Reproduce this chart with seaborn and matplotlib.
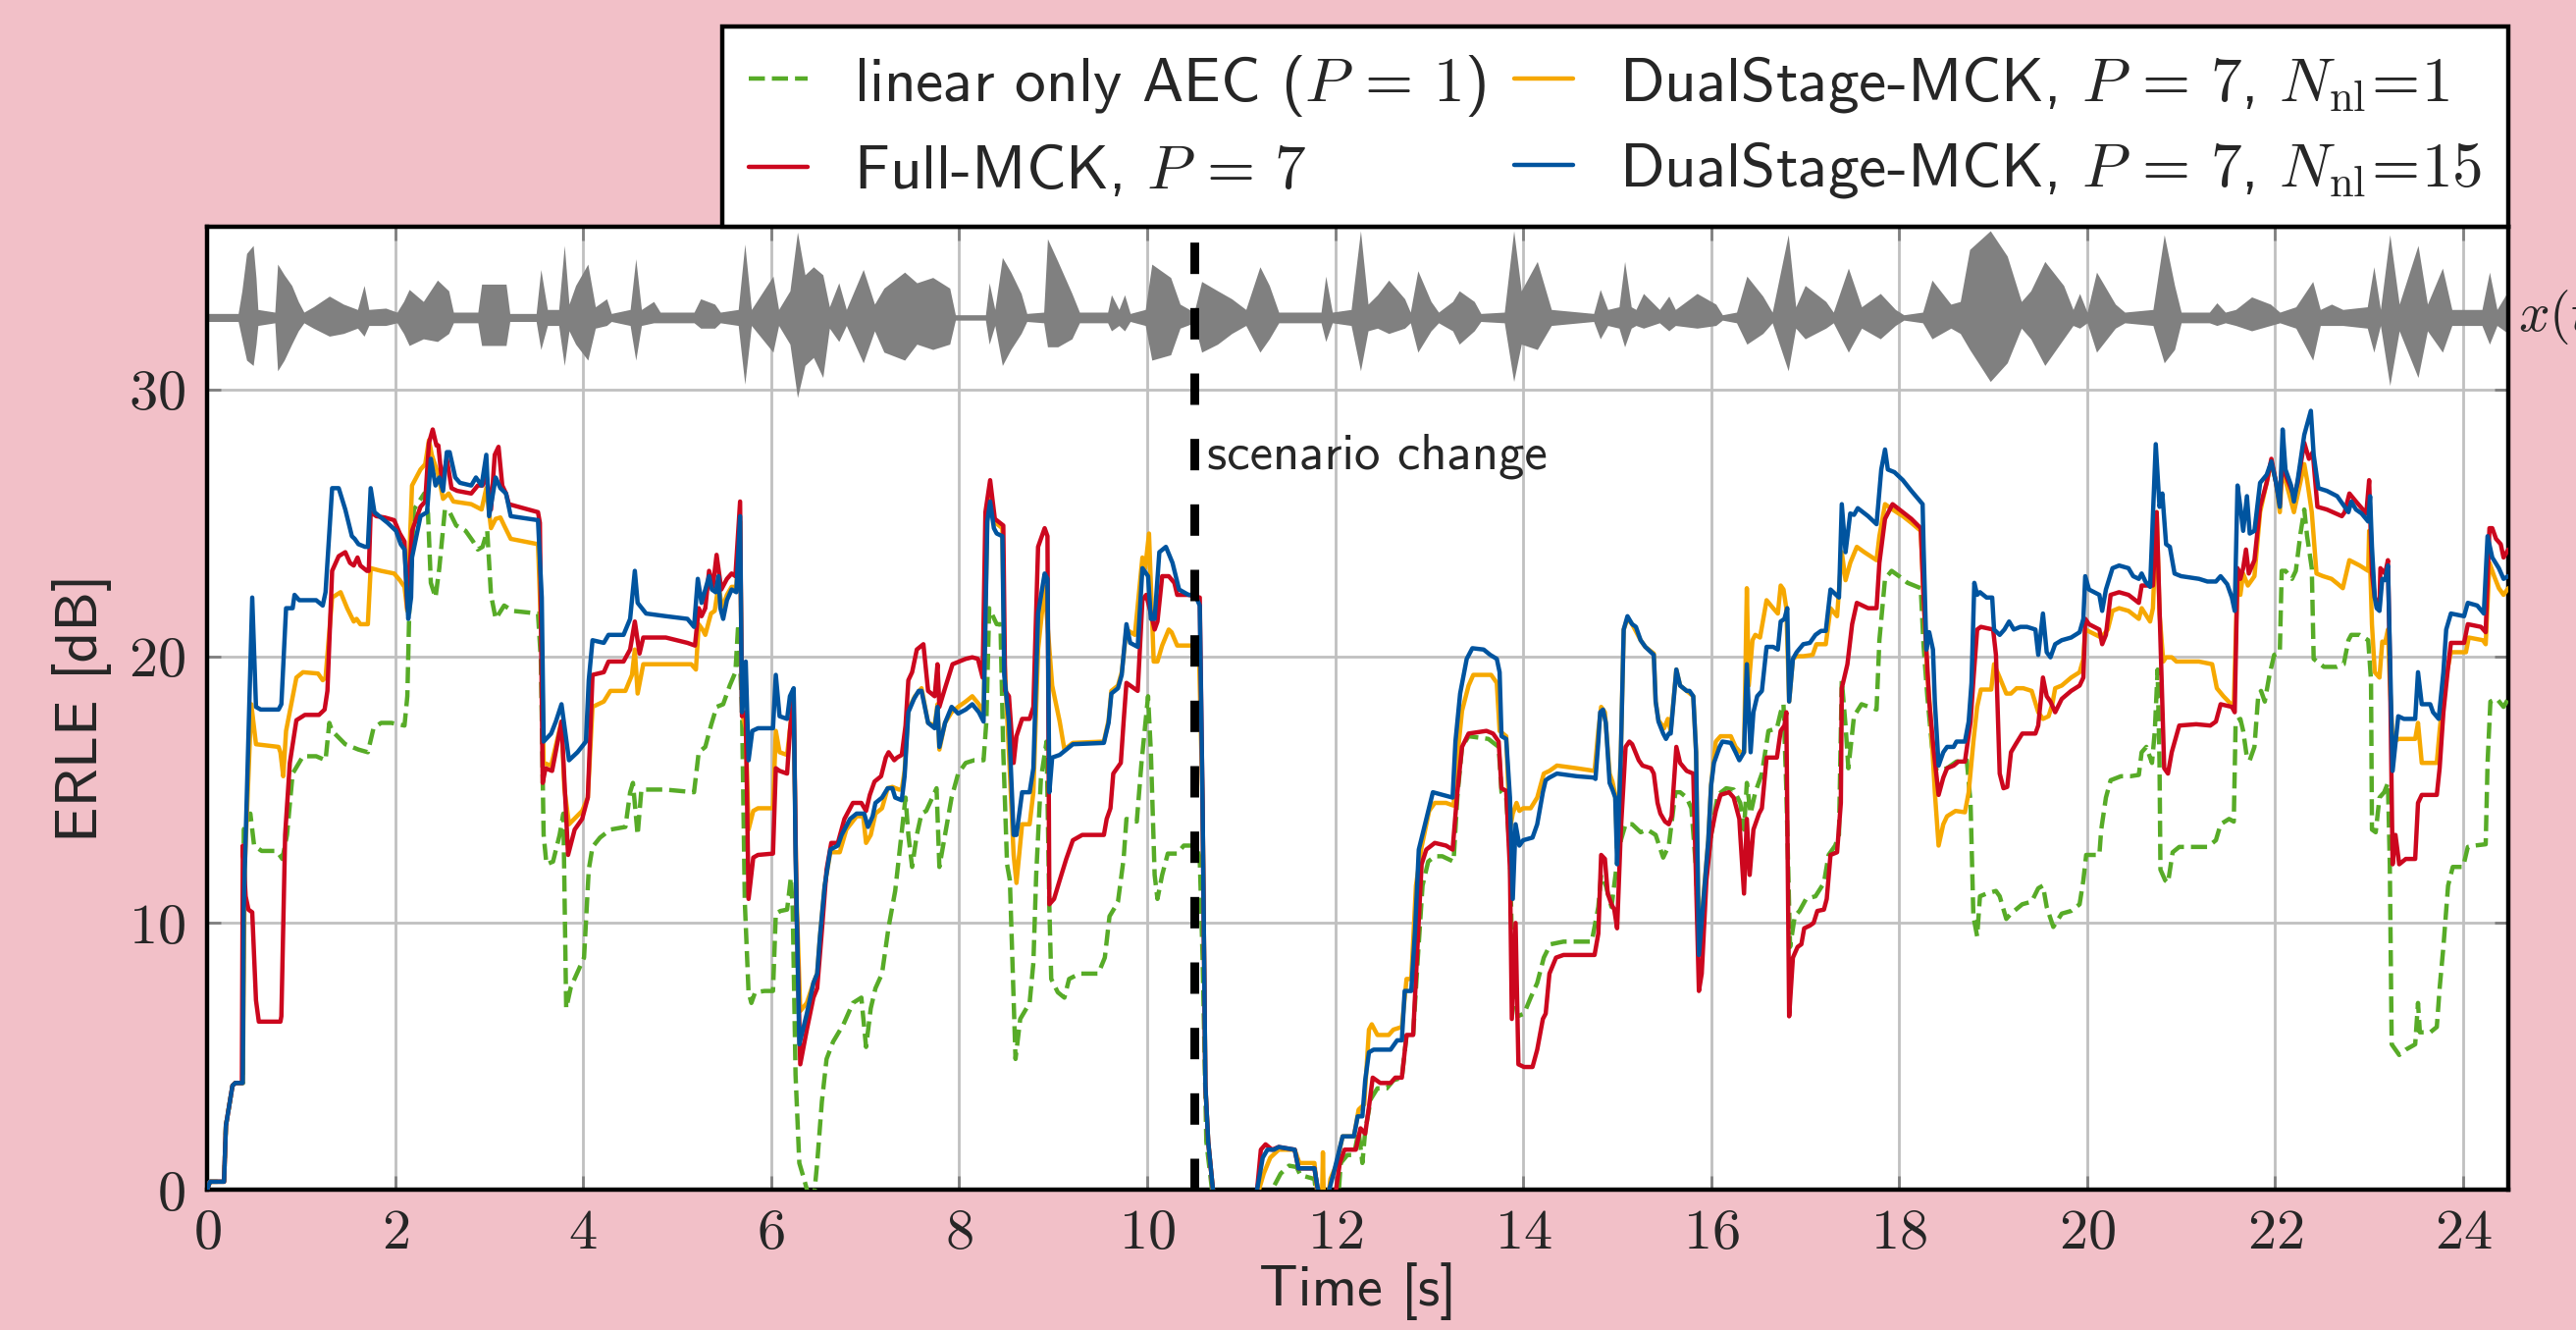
import numpy as np
import pandas as pd
import matplotlib
matplotlib.use("Agg")
import matplotlib.pyplot as plt
import seaborn as sns

# ---------------- data ----------------
LABELS = [r"linear only AEC ($P\,=\,1$)",
          r"Full-MCK, $P\,=\,7$",
          r"DualStage-MCK, $P\,=\,7$, $N_{\mathrm{nl}}\!=\!1$",
          r"DualStage-MCK, $P\,=\,7$, $N_{\mathrm{nl}}\!=\!15$"]

X_TICKS = [0, 2, 4, 6, 8, 10, 12, 14, 16, 18, 20, 22, 24]
Y_TICKS = [0, 10, 20, 30]
SCENARIO_CHANGE_T = 10.5
WAVE_CENTER = 32.7

BLUE = [(0.00,0.0),(0.03,0.3),(0.18,0.3),(0.20,2.4),(0.27,3.9),(0.30,4.0),(0.38,4.0),(0.39,10.6),(0.48,22.2),(0.52,18.1),(0.57,18.0),(0.76,18.0),(0.79,18.2),(0.84,21.8),(0.91,21.8),(0.93,22.3),(0.98,22.1),(1.16,22.1),(1.23,21.9),(1.26,22.4),(1.33,26.3),(1.40,26.3),(1.47,25.5),(1.54,24.5),(1.57,24.4),(1.61,24.2),(1.68,24.1),(1.71,24.1),(1.74,26.3),(1.78,25.4),(1.85,25.2),(1.92,25.0),(2.01,24.7),(2.06,24.2),(2.10,24.0),(2.14,21.4),(2.17,22.2),(2.18,23.7),(2.27,25.25),(2.34,25.4),(2.38,27.4),(2.43,26.4),(2.47,26.7),(2.51,26.2),(2.55,27.65),(2.58,27.65),(2.64,26.7),(2.69,26.5),(2.81,26.4),(2.86,26.7),(2.92,26.4),(2.97,27.55),(3.00,25.25),(3.07,26.7),(3.12,26.3),(3.18,26.1),(3.23,25.25),(3.52,25.1),(3.56,22.2),(3.58,16.8),(3.66,17.1),(3.71,17.55),(3.77,18.2),(3.85,16.1),(3.94,16.4),(4.03,16.8),(4.06,19.1),(4.10,20.6),(4.22,20.5),(4.27,20.8),(4.43,20.8),(4.50,21.4),(4.55,23.2),(4.58,22.0),(4.67,21.6),(4.88,21.5),
        (5.11,21.4),(5.18,21.1),(5.22,22.9),(5.26,22.0),(5.34,23.0),(5.37,22.5),(5.41,22.4),(5.44,23.0),(5.46,21.8),(5.49,21.4),(5.53,22.1),(5.58,22.5),(5.63,22.4),(5.67,25.25),(5.69,17.9),(5.73,19.8),(5.76,16.1),(5.80,17.2),(5.86,17.3),(6.02,17.3),(6.05,19.3),(6.09,17.75),(6.17,17.65),(6.20,18.5),(6.24,18.8),(6.26,12.6),(6.30,5.45),(6.38,6.6),(6.45,7.75),(6.49,8.1),(6.52,9.5),(6.57,11.4),(6.63,12.75),(6.71,12.9),(6.75,13.3),(6.84,13.9),(6.91,14.1),(6.99,14.1),(7.03,13.6),(7.08,14.0),(7.11,14.5),(7.18,14.7),(7.24,15.05),(7.29,15.05),(7.32,14.7),(7.39,14.6),(7.42,15.5),(7.46,17.9),(7.52,18.4),(7.57,18.7),(7.60,18.7),(7.67,17.5),(7.74,17.3),(7.77,18.1),(7.79,16.6),(7.85,17.5),(7.92,18.1),(7.99,17.85),(8.07,18.0),(8.14,18.2),(8.21,17.9),(8.26,17.55),(8.30,25.05),(8.33,25.8),(8.37,24.8),(8.40,24.6),(8.46,24.5),(8.48,19.3),(8.53,17.55),(8.58,13.3),(8.61,13.3),(8.67,14.9),(8.75,14.9),(8.79,15.8),(8.84,21.6),(8.91,23.1),(8.94,22.9),(8.96,14.9),(8.99,16.2),(9.07,16.3),(9.14,16.5),(9.21,16.7),(9.54,16.75),(9.59,17.5),(9.62,18.6),(9.69,18.8),
        (9.73,19.3),(9.78,21.2),(9.82,20.5),(9.90,20.35),(9.95,23.3),(10.01,23.0),(10.04,21.4),(10.08,21.4),(10.13,23.9),(10.20,24.1),(10.27,23.5),(10.34,22.5),(10.44,22.3),(10.51,22.3),(10.56,21.9),(10.59,14.5),(10.62,3.9),(10.65,1.8),(10.70,0.0),(10.75,-3.0),(11.12,-3.0),(11.17,0.0),(11.23,1.2),(11.28,1.5),(11.35,1.5),(11.40,1.6),(11.57,1.5),(11.61,0.8),(11.78,0.8),(11.84,-0.5),(11.90,-0.5),(11.99,0.7),(12.08,2.0),(12.20,2.0),(12.24,2.75),(12.29,2.75),(12.32,4.1),(12.36,5.15),(12.41,5.25),(12.59,5.25),(12.66,5.6),(12.71,5.6),(12.74,7.45),(12.81,7.45),(12.85,9.7),(12.89,12.75),(12.97,13.9),(13.04,14.9),(13.25,14.7),(13.28,16.8),(13.33,18.6),(13.40,19.9),(13.46,20.3),(13.58,20.25),(13.65,20.05),(13.72,19.9),(13.75,19.4),(13.77,17.0),(13.82,16.9),(13.86,14.7),(13.89,10.9),(13.92,13.7),(13.96,12.9),(14.00,13.1),(14.10,13.2),(14.15,13.7),(14.21,14.9),(14.24,15.35),(14.28,15.45),(14.36,15.6),(14.57,15.5),(14.75,15.45),
        (14.77,15.4),(14.80,16.8),(14.82,17.9),(14.85,18.0),(14.88,17.5),(14.92,15.25),(14.95,15.0),(14.98,14.7),(15.00,12.2),(15.04,16.4),(15.07,21.0),(15.11,21.5),(15.16,21.2),(15.20,21.1),(15.25,20.6),(15.30,20.35),(15.36,20.15),(15.39,20.05),(15.41,18.3),(15.44,17.55),(15.49,17.1),(15.52,16.9),(15.55,17.1),(15.57,17.1),(15.63,19.5),(15.67,18.9),(15.74,18.7),(15.77,18.7),(15.81,18.5),(15.84,16.4),(15.87,8.8),(15.91,10.5),(15.97,13.1),(16.00,15.15),(16.03,16.0),(16.09,16.6),(16.12,16.8),(16.21,16.75),(16.26,16.4),(16.30,16.1),(16.35,16.4),(16.38,19.7),(16.42,16.4),(16.45,17.9),(16.49,18.5),(16.54,18.7),(16.59,20.35),(16.66,20.35),(16.71,20.25),(16.74,21.3),(16.78,21.4),(16.81,21.8),(16.83,18.3),(16.87,19.9),(16.91,20.15),(16.98,20.45),(17.05,20.5),(17.11,20.8),(17.17,20.95),(17.22,20.95),(17.27,22.5),(17.36,22.2),(17.39,25.7),(17.43,23.9),(17.48,25.35),(17.52,25.3),(17.56,25.55),(17.67,25.25),(17.76,24.95),(17.81,27.0),(17.85,27.75),(17.88,27.0),(17.95,26.9),(18.04,26.6),(18.13,26.2),(18.25,25.7),(18.26,24.1),(18.29,20.25),(18.32,20.9),(18.36,20.25),(18.38,18.3),(18.42,15.9),(18.47,16.4),(18.51,16.6),(18.58,16.6),(18.61,16.8),(18.70,16.8),(18.74,17.55),(18.77,19.0),(18.80,22.75),(18.83,22.3),(18.86,22.4),(18.93,22.2),(18.99,22.2),(19.01,21.0),(19.07,20.8),(19.12,21.0),(19.17,21.3),(19.22,21.0),(19.29,21.1),(19.36,21.1),(19.45,21.0),(19.48,20.05),(19.53,21.6),(19.57,20.15),(19.61,19.96),(19.66,20.45),(19.73,20.6),(19.83,20.7),(19.92,20.9),(19.96,21.4),(19.98,23.0),(20.02,22.5),(20.13,22.3),(20.16,21.7),(20.20,22.5),(20.27,23.3),(20.34,23.4),(20.44,23.3),(20.49,23.0),(20.55,22.9),(20.58,23.1),(20.62,22.8),(20.67,22.6),(20.73,27.95),(20.77,25.6),(20.80,26.1),(20.84,24.2),(20.88,24.1),(20.93,23.1),(21.00,23.0),(21.19,22.9),(21.28,22.8),(21.37,22.8),(21.42,23.0),(21.49,22.7),(21.54,22.2),(21.57,21.7),(21.60,26.4),(21.63,25.6),(21.66,24.7),(21.70,26.0),(21.73,24.6),(21.78,24.7),(21.84,26.5),(21.91,26.8),(21.96,27.3),(22.01,26.5),(22.05,25.6),(22.08,28.5),(22.11,27.0),(22.17,26.4),(22.20,25.8),(22.24,26.6),(22.31,28.3),(22.38,29.2),(22.41,27.55),(22.46,26.3),(22.55,26.2),(22.66,26.0),(22.72,25.7),(22.78,25.4),(22.81,25.8),(22.86,25.5),(22.92,25.35),(22.99,25.05),(23.01,26.0),(23.03,24.1),(23.06,22.2),(23.08,21.8),(23.11,21.7),(23.14,22.9),(23.17,22.85),(23.20,23.4),(23.22,20.25),(23.25,15.7),(23.31,17.75),(23.37,17.65),(23.49,17.65),(23.52,19.4),(23.56,18.2),(23.65,18.2),(23.68,17.9),(23.74,17.65),(23.79,19.4),(23.82,21.0),(23.87,21.6),(24.01,21.5),(24.05,22.0),(24.15,21.9),(24.22,21.6),(24.26,24.5),(24.31,23.7),(24.38,23.3),(24.43,22.9),(24.48,23.0)]

RED = [(0.00,0.0),(0.03,0.3),(0.18,0.3),(0.20,2.4),(0.27,3.9),(0.30,4.0),(0.37,4.0),(0.38,12.9),(0.41,11.0),(0.44,10.5),(0.48,10.4),(0.52,7.1),(0.55,6.3),(0.78,6.3),(0.79,6.5),(0.83,13.3),(0.88,16.0),(0.95,17.6),(1.04,17.8),(1.19,17.8),(1.25,18.0),(1.28,18.7),(1.33,23.2),(1.40,23.75),(1.47,23.9),(1.52,23.5),(1.56,23.4),(1.60,23.7),(1.63,23.4),(1.70,23.2),(1.72,23.2),(1.74,25.4),(1.80,25.25),(1.89,25.2),(1.99,25.1),(2.05,24.6),(2.10,24.3),(2.13,21.8),(2.18,24.7),(2.27,25.6),(2.32,25.8),(2.36,28.0),(2.40,28.5),(2.44,27.9),(2.46,27.9),(2.50,26.5),(2.55,27.4),(2.60,26.3),(2.66,26.2),(2.81,26.1),(2.88,26.4),(2.93,26.4),(2.97,26.8),(3.02,25.5),(3.06,27.55),(3.10,27.85),(3.14,26.4),(3.18,26.1),(3.21,25.7),(3.52,25.4),(3.54,25.0),(3.57,15.25),(3.60,15.8),(3.67,15.7),(3.77,17.55),(3.84,12.55),(3.91,13.5),(3.99,13.9),(4.05,14.7),(4.10,19.3),(4.22,19.4),(4.27,19.8),(4.43,19.8),(4.50,20.25),(4.55,21.3),(4.60,20.1),(4.64,20.7),(4.88,20.7),
       (5.11,20.5),(5.19,20.4),(5.23,21.8),(5.26,21.5),(5.30,21.8),(5.34,23.2),(5.38,22.6),(5.42,23.8),(5.47,22.5),(5.53,22.9),(5.58,23.1),(5.62,23.0),(5.67,25.8),(5.69,17.75),(5.73,17.9),(5.76,10.9),(5.81,12.45),(5.86,12.55),(6.02,12.6),(6.05,15.8),(6.09,15.7),(6.17,15.6),(6.20,17.2),(6.24,18.6),(6.27,10.6),(6.31,4.7),(6.38,6.0),(6.45,7.2),(6.49,7.55),(6.54,9.7),(6.59,12.0),(6.64,13.0),(6.71,13.0),(6.78,13.9),(6.87,14.5),(6.96,14.5),(7.01,14.2),(7.05,14.8),(7.10,15.3),(7.17,15.5),(7.22,16.2),(7.25,16.4),(7.31,16.1),(7.34,16.2),(7.39,16.3),(7.43,17.4),(7.46,19.1),(7.50,19.4),(7.55,20.25),(7.62,20.45),(7.67,18.7),(7.74,18.5),(7.77,19.7),(7.79,18.1),(7.85,18.8),(7.93,19.7),(8.00,19.8),(8.07,19.9),(8.14,19.96),(8.20,19.9),(8.25,19.2),(8.28,25.4),(8.33,26.6),(8.38,25.15),(8.47,24.9),(8.49,18.7),(8.53,18.5),(8.58,16.0),(8.61,17.0),(8.67,17.65),(8.75,17.65),(8.79,18.1),(8.84,24.1),(8.91,24.8),(8.94,24.5),(8.96,10.7),(9.01,10.9),(9.07,11.6),(9.14,12.4),(9.21,13.1),(9.31,13.3),(9.54,13.3),(9.57,13.9),(9.61,14.3),(9.64,15.6),(9.72,16.0),(9.75,17.55),
       (9.78,19.0),(9.90,18.7),(9.95,22.1),(9.99,22.3),(10.04,21.6),(10.08,21.0),(10.11,21.3),(10.16,23.0),(10.23,23.0),(10.29,22.75),(10.32,22.3),(10.44,22.3),(10.56,22.2),(10.59,14.5),(10.62,3.9),(10.65,1.8),(10.70,0.0),(10.75,-3.0),(11.12,-3.0),(11.17,0.0),(11.21,1.5),(11.26,1.7),(11.33,1.5),(11.40,1.6),(11.57,1.5),(11.61,0.8),(11.78,0.8),(11.84,-0.5),(11.99,-0.5),(12.05,1.0),(12.10,1.5),(12.22,1.5),(12.27,2.3),(12.32,2.1),(12.36,3.1),(12.40,4.2),(12.48,4.0),(12.59,4.0),(12.64,4.2),(12.71,4.2),(12.76,5.8),(12.83,5.8),(12.87,8.7),(12.92,12.2),(12.97,12.75),(13.06,13.0),(13.18,12.9),(13.25,12.75),(13.30,14.9),(13.35,16.6),(13.42,17.1),(13.61,17.2),(13.68,17.1),(13.74,16.8),(13.77,15.05),(13.82,14.95),(13.86,12.0),(13.88,6.4),(13.92,10.0),(13.95,4.7),(14.01,4.6),(14.10,4.6),(14.15,5.25),(14.21,6.4),(14.24,6.6),(14.28,8.1),(14.35,8.7),(14.43,8.8),(14.76,8.8),
       (14.80,9.6),(14.83,12.55),(14.87,12.4),(14.90,11.1),(14.94,10.7),(14.97,10.5),(15.00,9.8),(15.04,13.5),(15.09,16.6),(15.13,16.8),(15.16,16.7),(15.23,16.1),(15.27,15.9),(15.36,15.8),(15.39,15.6),(15.43,14.5),(15.46,14.1),(15.51,13.8),(15.55,13.7),(15.58,14.0),(15.63,16.6),(15.67,16.0),(15.74,15.7),(15.81,15.6),(15.87,7.45),(15.90,8.1),(15.95,11.6),(16.00,13.3),(16.05,14.2),(16.10,14.8),(16.19,14.9),(16.24,14.7),(16.30,13.9),(16.31,13.3),(16.35,11.1),(16.38,13.9),(16.41,11.8),(16.45,13.5),(16.51,14.1),(16.54,14.3),(16.59,16.2),(16.70,16.2),(16.74,17.2),(16.78,17.4),(16.80,17.9),(16.83,6.5),(16.87,8.7),(16.92,9.1),(16.96,9.2),(16.99,9.8),(17.05,9.9),(17.09,10.0),(17.13,10.45),(17.20,10.5),(17.23,10.9),(17.27,12.55),(17.34,12.65),(17.38,14.5),(17.39,18.8),(17.45,19.7),(17.50,21.2),(17.55,22.0),(17.67,21.8),(17.76,21.8),(17.79,23.5),(17.85,25.15),(17.93,25.7),(18.04,25.4),(18.13,25.15),(18.23,24.8),(18.26,22.2),(18.32,18.3),(18.37,16.4),(18.42,14.8),(18.47,15.45),(18.51,15.8),(18.58,15.9),(18.63,16.05),(18.70,16.05),(18.76,17.55),(18.79,19.1),(18.83,21.0),(18.87,21.1),(19.00,21.0),(19.03,20.05),(19.07,15.6),(19.11,15.05),(19.15,15.1),(19.19,16.4),(19.24,16.7),(19.31,17.1),(19.38,17.1),(19.45,17.1),(19.48,17.4),(19.53,19.2),(19.57,18.5),(19.61,18.3),(19.66,17.9),(19.73,18.4),(19.83,18.7),(19.92,18.9),(19.96,19.2),(19.98,21.4),(20.02,21.2),(20.13,21.0),(20.16,20.45),(20.20,20.8),(20.25,22.3),(20.34,22.4),(20.44,22.3),(20.55,22.0),(20.58,22.65),(20.70,22.65),(20.74,25.4),(20.77,21.8),(20.80,18.3),(20.82,15.8),(20.86,15.6),(20.90,16.4),(20.98,17.4),(21.16,17.45),(21.31,17.4),(21.37,17.55),(21.42,18.2),(21.54,18.1),(21.57,17.9),(21.60,23.3),(21.63,22.9),(21.66,23.3),(21.69,24.0),(21.72,23.1),(21.78,23.6),(21.84,25.6),(21.91,26.5),(21.96,27.4),(22.01,26.5),(22.05,25.7),(22.08,27.55),(22.11,26.8),(22.20,26.0),(22.24,26.5),(22.31,28.0),(22.36,27.4),(22.40,27.65),(22.45,25.6),(22.55,25.5),(22.71,25.25),(22.74,25.4),(22.79,26.1),(22.86,25.8),(22.97,25.35),(23.00,26.6),(23.03,23.1),(23.06,22.2),(23.11,21.8),(23.12,23.3),(23.17,23.1),(23.20,23.6),(23.22,20.0),(23.25,12.2),(23.28,13.3),(23.32,12.2),(23.39,12.4),(23.49,12.4),(23.52,14.5),(23.56,14.8),(23.72,14.8),(23.75,15.8),(23.79,17.9),(23.84,19.6),(23.87,20.5),(24.01,20.5),(24.05,21.2),(24.19,21.1),(24.24,20.9),(24.28,24.8),(24.31,24.8),(24.35,24.4),(24.40,24.2),(24.43,23.7),(24.48,24.0)]

ORANGE = [(0.00,0.0),(0.03,0.3),(0.18,0.3),(0.20,2.4),(0.27,3.9),(0.30,4.0),(0.38,4.0),(0.40,12.0),(0.47,18.2),(0.52,16.7),(0.76,16.6),(0.78,16.4),(0.81,15.5),(0.84,17.2),(0.90,18.3),(0.95,19.2),(1.02,19.4),(1.18,19.35),(1.23,19.1),(1.26,19.2),(1.33,22.2),(1.42,22.4),(1.49,21.8),(1.56,21.3),(1.59,21.4),(1.63,21.2),(1.71,21.2),(1.74,23.3),(1.85,23.2),(1.99,23.1),(2.05,22.85),(2.10,22.6),(2.13,21.7),(2.18,26.4),(2.27,27.0),(2.32,27.2),(2.36,28.1),(2.39,27.55),(2.46,26.8),(2.51,25.9),(2.57,26.1),(2.62,25.8),(2.81,25.7),(2.92,25.5),(2.97,26.3),(3.02,24.8),(3.07,25.15),(3.12,25.2),(3.16,24.9),(3.23,24.4),(3.52,24.2),(3.56,20.3),(3.58,16.0),(3.66,15.9),(3.77,17.55),(3.80,15.05),(3.85,13.7),(3.99,14.2),(4.05,14.7),(4.10,18.1),(4.22,18.3),(4.29,18.7),(4.45,18.7),(4.52,19.3),(4.55,20.25),(4.58,18.6),(4.64,19.7),(4.88,19.7),
          (5.15,19.7),(5.20,19.5),(5.23,21.2),(5.27,21.0),(5.30,20.8),(5.36,21.6),(5.40,21.7),(5.44,22.65),(5.48,21.8),(5.53,22.3),(5.58,22.6),(5.63,22.6),(5.67,25.05),(5.69,17.9),(5.73,17.3),(5.76,13.5),(5.81,14.2),(5.86,14.3),(6.02,14.3),(6.05,17.2),(6.09,16.4),(6.17,16.3),(6.21,17.55),(6.24,17.9),(6.27,11.0),(6.31,6.7),(6.38,7.0),(6.45,7.75),(6.49,8.1),(6.52,9.5),(6.57,11.4),(6.63,12.65),(6.73,12.65),(6.80,13.5),(6.91,14.0),(6.98,14.0),(7.01,13.0),(7.06,13.3),(7.11,14.1),(7.18,14.3),(7.24,15.05),(7.29,15.1),(7.36,15.0),(7.39,15.0),(7.42,15.7),(7.46,18.0),(7.53,18.5),(7.60,18.8),(7.67,17.5),(7.74,17.4),(7.77,18.2),(7.79,16.5),(7.85,17.5),(7.92,17.9),(7.99,18.1),(8.07,18.3),(8.14,18.5),(8.21,18.2),(8.26,17.85),(8.30,25.25),(8.33,26.0),(8.37,25.05),(8.46,24.8),(8.48,20.0),(8.53,16.4),(8.58,12.55),(8.61,11.5),(8.67,13.7),(8.75,13.7),(8.79,14.9),(8.84,20.25),(8.91,22.6),(8.94,21.2),(8.99,18.9),(9.07,17.55),(9.12,16.5),(9.21,16.75),(9.54,16.8),(9.59,17.6),(9.62,18.7),(9.69,18.9),
          (9.73,19.4),(9.78,21.0),(9.87,20.8),(9.95,23.7),(9.98,23.3),(10.02,24.6),(10.07,19.8),(10.11,19.8),(10.16,20.4),(10.23,21.0),(10.26,20.9),(10.32,20.4),(10.44,20.4),(10.55,20.4),(10.59,14.5),(10.62,3.9),(10.65,1.8),(10.70,0.0),(10.75,-3.0),(11.15,-3.0),(11.19,0.0),(11.24,0.6),(11.31,1.2),(11.40,1.5),(11.57,1.5),(11.62,1.0),(11.78,1.0),(11.82,-0.5),(11.86,-0.5),(11.87,1.4),(11.88,-0.5),(11.92,-0.5),(11.95,0.4),(12.01,0.9),(12.08,2.0),(12.20,2.0),(12.25,3.0),(12.31,3.2),(12.36,6.0),(12.39,6.2),(12.45,5.8),(12.57,5.8),(12.62,6.0),(12.71,6.1),(12.76,7.9),(12.81,7.9),(12.86,11.4),(12.92,12.85),(13.00,14.2),(13.06,14.5),(13.18,14.5),(13.26,14.4),(13.30,16.2),(13.35,17.95),(13.42,18.9),(13.47,19.3),(13.66,19.3),(13.72,19.0),(13.75,17.2),(13.82,17.0),(13.86,13.5),(13.89,14.1),(13.93,14.5),(13.96,14.2),(14.00,14.3),(14.08,14.3),(14.15,14.7),(14.22,15.6),(14.28,15.7),(14.36,15.9),(14.57,15.8),(14.76,15.7),
          (14.80,17.2),(14.83,18.1),(14.87,17.9),(14.92,15.6),(14.95,15.3),(14.98,14.8),(15.00,12.8),(15.04,16.4),(15.07,21.0),(15.11,21.4),(15.16,21.2),(15.25,20.6),(15.30,20.35),(15.39,20.1),(15.41,18.3),(15.44,17.6),(15.50,17.3),(15.54,17.65),(15.57,17.2),(15.63,19.5),(15.67,18.9),(15.81,18.5),(15.84,16.4),(15.87,8.8),(15.91,10.6),(15.97,13.1),(16.00,15.2),(16.05,16.8),(16.10,17.0),(16.21,17.0),(16.26,16.6),(16.31,16.4),(16.35,16.4),(16.38,22.55),(16.40,18.9),(16.44,20.6),(16.47,20.8),(16.52,20.7),(16.59,22.1),(16.66,21.8),(16.71,21.6),(16.74,22.65),(16.77,22.5),(16.80,21.8),(16.83,18.3),(16.87,19.9),(16.91,20.0),(16.98,20.0),(17.08,20.05),(17.12,20.45),(17.22,20.45),(17.27,21.8),(17.34,21.5),(17.39,23.9),(17.43,22.85),(17.48,23.5),(17.55,24.1),(17.63,23.9),(17.76,23.6),(17.79,24.5),(17.85,25.7),(17.93,25.5),(18.04,25.25),(18.13,25.0),(18.23,24.7),(18.27,21.5),(18.30,19.3),(18.33,18.0),(18.38,14.9),(18.42,12.9),(18.47,13.7),(18.51,14.0),(18.60,14.2),(18.70,14.15),(18.74,14.9),(18.79,16.8),(18.83,18.1),(18.87,18.75),(18.98,18.75),(19.01,19.7),(19.07,19.2),(19.14,18.6),(19.19,18.6),(19.25,18.8),(19.32,18.8),(19.41,18.7),(19.48,17.9),(19.53,17.65),(19.59,17.75),(19.63,18.2),(19.66,18.8),(19.73,18.9),(19.83,19.2),(19.92,19.4),(19.96,19.9),(19.98,21.0),(20.15,20.7),(20.22,21.0),(20.27,21.7),(20.34,21.8),(20.44,21.7),(20.55,21.4),(20.58,21.8),(20.67,21.3),(20.70,21.8),(20.74,25.4),(20.77,21.6),(20.81,19.8),(20.84,19.96),(20.90,19.96),(20.95,19.8),(21.19,19.8),(21.33,19.7),(21.38,18.8),(21.45,18.5),(21.56,18.1),(21.60,23.0),(21.63,22.3),(21.66,23.1),(21.71,22.65),(21.78,23.0),(21.84,25.4),(21.91,26.5),(21.96,27.3),(22.01,26.5),(22.05,25.4),(22.08,27.2),(22.11,26.6),(22.20,25.4),(22.31,27.2),(22.34,26.6),(22.39,25.4),(22.44,23.1),(22.51,23.0),(22.60,22.9),(22.67,22.7),(22.72,22.55),(22.79,23.6),(22.90,23.4),(22.99,23.2),(23.00,24.7),(23.03,21.2),(23.06,19.4),(23.11,19.2),(23.14,20.55),(23.17,20.5),(23.20,21.0),(23.22,19.0),(23.25,16.8),(23.32,16.9),(23.49,16.9),(23.52,17.5),(23.56,16.0),(23.72,16.0),(23.75,17.2),(23.80,18.9),(23.87,20.15),(24.03,20.15),(24.06,20.7),(24.21,20.6),(24.24,20.45),(24.28,23.5),(24.33,23.0),(24.38,22.55),(24.43,22.3),(24.48,22.55)]

GREEN = [(0.00,0.0),(0.03,0.3),(0.18,0.3),(0.20,2.4),(0.27,3.9),(0.30,4.0),(0.38,4.0),(0.39,13.5),(0.46,14.1),(0.50,12.9),(0.58,12.7),(0.74,12.7),(0.80,12.4),(0.85,13.3),(0.91,15.6),(1.02,16.25),(1.16,16.25),(1.26,16.1),(1.30,17.5),(1.33,17.2),(1.47,16.7),(1.61,16.5),(1.71,16.4),(1.77,17.3),(1.85,17.5),(1.96,17.5),(2.10,17.4),(2.13,18.5),(2.15,21.6),(2.20,25.5),(2.31,26.1),(2.35,25.35),(2.38,22.75),(2.43,22.2),(2.47,23.3),(2.53,25.5),(2.58,25.4),(2.65,24.9),(2.75,24.7),(2.83,24.3),(2.88,24.0),(2.93,24.1),(2.98,24.7),(3.02,22.3),(3.07,21.4),(3.16,21.9),(3.25,21.7),(3.52,21.6),(3.55,19.9),(3.58,13.3),(3.61,12.2),(3.68,12.3),(3.75,13.3),(3.79,14.1),(3.82,6.8),(3.87,7.6),(4.01,8.7),(4.06,12.0),(4.10,12.85),(4.18,13.2),(4.29,13.5),(4.45,13.6),(4.50,14.9),(4.53,15.25),(4.58,13.3),(4.62,15.0),(4.87,15.0),
         (5.18,14.9),(5.23,16.4),(5.30,16.6),(5.36,17.4),(5.42,18.1),(5.49,18.2),(5.56,18.9),(5.62,19.4),(5.65,21.2),(5.69,18.1),(5.72,10.8),(5.76,7.4),(5.79,7.0),(5.83,7.4),(5.93,7.45),(6.02,7.45),(6.05,10.35),(6.10,10.45),(6.17,10.5),(6.21,11.7),(6.23,10.5),(6.26,4.3),(6.30,1.0),(6.35,0.4),(6.42,-0.5),(6.45,-0.5),(6.49,1.0),(6.54,3.3),(6.59,4.9),(6.66,5.55),(6.77,6.2),(6.87,7.0),(6.96,7.2),(7.01,5.35),(7.06,6.8),(7.11,7.55),(7.18,8.1),(7.25,9.85),(7.32,11.2),(7.38,13.1),(7.43,14.7),(7.46,13.3),(7.50,12.1),(7.55,13.3),(7.60,14.1),(7.65,14.2),(7.76,15.05),(7.79,12.1),(7.85,13.3),(7.92,14.7),(7.99,15.6),(8.07,16.0),(8.16,16.1),(8.26,16.1),(8.29,17.55),(8.32,21.8),(8.40,21.2),(8.44,21.2),(8.47,16.4),(8.51,12.2),(8.54,11.6),(8.60,4.9),(8.65,6.4),(8.75,7.0),(8.79,8.5),(8.82,11.8),(8.87,15.4),(8.93,16.8),(8.96,10.6),(8.98,7.9),(9.05,7.4),(9.12,7.2),(9.17,7.9),(9.28,8.1),(9.48,8.1),(9.55,8.7),(9.60,10.25),(9.66,10.6),(9.69,10.8),
         (9.75,12.4),(9.78,13.9),(9.89,13.8),(9.94,16.0),(10.01,18.5),(10.04,16.4),(10.08,11.8),(10.11,10.9),(10.16,11.8),(10.22,12.6),(10.32,12.6),(10.39,12.9),(10.53,12.9),(10.56,12.4),(10.59,8.7),(10.63,1.8),(10.69,0.0),(10.74,-3.0),(11.28,-3.0),(11.33,0.0),(11.42,0.6),(11.51,0.9),(11.59,0.85),(11.63,0.55),(11.78,0.4),(11.81,-0.5),(12.03,-0.5),(12.06,1.0),(12.13,1.3),(12.20,1.3),(12.25,2.2),(12.29,1.0),(12.32,2.2),(12.38,3.4),(12.45,3.8),(12.55,3.8),(12.62,4.1),(12.71,4.2),(12.76,5.8),(12.83,5.8),(12.88,8.7),(12.93,11.4),(12.99,12.3),(13.06,12.5),(13.14,12.5),(13.26,12.3),(13.30,14.7),(13.35,16.6),(13.42,17.0),(13.63,16.9),(13.74,16.6),(13.77,14.9),(13.82,14.7),(13.86,12.55),(13.89,7.75),(13.94,6.5),(14.01,6.6),(14.08,7.2),(14.15,7.75),(14.22,8.7),(14.29,9.2),(14.43,9.3),(14.73,9.3),
         (14.80,10.6),(14.83,11.8),(14.88,11.4),(14.94,10.6),(14.99,12.0),(15.04,13.1),(15.09,13.7),(15.16,13.7),(15.25,13.4),(15.32,13.5),(15.41,13.3),(15.49,12.45),(15.55,12.9),(15.62,14.9),(15.67,14.9),(15.74,14.7),(15.79,14.3),(15.84,12.0),(15.87,8.7),(15.93,11.2),(16.00,13.3),(16.07,14.8),(16.16,15.05),(16.24,15.0),(16.31,14.5),(16.35,13.5),(16.38,15.25),(16.42,14.1),(16.47,14.9),(16.54,15.6),(16.61,17.2),(16.70,17.3),(16.74,17.9),(16.77,18.2),(16.80,15.0),(16.84,9.1),(16.89,10.25),(16.94,10.45),(17.01,10.9),(17.11,11.0),(17.20,11.5),(17.25,12.55),(17.32,12.9),(17.36,13.3),(17.39,19.1),(17.43,17.4),(17.46,15.8),(17.52,17.75),(17.60,18.2),(17.76,18.0),(17.79,20.6),(17.85,22.9),(17.92,23.2),(18.00,23.0),(18.09,22.75),(18.23,22.55),(18.26,20.4),(18.30,18.5),(18.35,16.6),(18.40,15.7),(18.51,15.8),(18.61,16.05),(18.72,16.1),(18.76,14.5),(18.79,10.25),(18.83,9.5),(18.86,11.0),(18.93,11.1),(19.03,11.2),(19.07,11.0),(19.14,10.15),(19.19,10.35),(19.31,10.7),(19.41,10.8),(19.48,11.3),(19.53,11.4),(19.57,10.6),(19.64,9.85),(19.73,10.35),(19.83,10.45),(19.92,10.7),(19.96,11.6),(19.99,12.55),(20.13,12.55),(20.15,13.5),(20.20,14.7),(20.25,15.35),(20.36,15.5),(20.46,15.5),(20.55,15.55),(20.58,16.4),(20.63,16.6),(20.69,16.0),(20.72,17.2),(20.75,19.5),(20.77,16.0),(20.78,12.0),(20.83,11.6),(20.86,11.5),(20.91,12.65),(20.98,12.85),(21.28,12.85),(21.37,13.1),(21.42,13.7),(21.51,13.9),(21.56,13.8),(21.58,17.55),(21.63,17.65),(21.66,17.2),(21.70,16.2),(21.73,16.1),(21.78,16.6),(21.82,18.5),(21.85,18.7),(21.89,18.3),(21.94,19.3),(21.99,20.05),(22.05,20.15),(22.07,23.2),(22.11,23.2),(22.18,22.9),(22.22,23.2),(22.27,24.6),(22.31,25.5),(22.34,24.5),(22.39,23.3),(22.41,19.9),(22.52,19.6),(22.66,19.6),(22.73,19.7),(22.78,20.6),(22.81,20.8),(22.90,20.8),(22.99,20.6),(23.02,19.1),(23.03,13.5),(23.07,13.4),(23.11,14.7),(23.16,14.9),(23.20,15.25),(23.22,12.2),(23.24,5.45),(23.32,5.05),(23.39,5.25),(23.49,5.45),(23.52,7.0),(23.54,5.9),(23.65,5.9),(23.72,6.1),(23.75,7.55),(23.79,9.1),(23.84,11.4),(23.89,12.1),(24.00,12.1),(24.05,12.85),(24.12,12.9),(24.24,12.95),(24.26,16.0),(24.29,18.3),(24.36,18.4),(24.43,18.1),(24.48,18.4)]

# loudspeaker signal x(t): envelope (time, upper amplitude, lower amplitude) in dB units
WAVE = [(0.00,0.15,0.15),(0.33,0.15,0.15),(0.37,1.0,0.8),(0.42,2.4,1.6),(0.49,2.7,1.8),(0.52,1.5,1.0),(0.54,0.3,0.3),(0.72,0.2,0.2),(0.75,2.0,2.0),(0.82,1.6,1.6),(0.90,1.2,1.0),(0.97,0.6,0.5),(1.03,0.2,0.2),(1.13,0.4,0.4),(1.30,0.8,0.7),(1.45,0.5,0.6),(1.60,0.3,0.4),(1.67,1.2,0.7),(1.72,0.3,0.3),(1.90,0.35,0.3),(2.02,0.2,0.2),(2.09,0.6,0.6),(2.15,1.05,1.05),(2.30,0.6,0.8),(2.45,1.4,0.9),(2.57,1.0,0.6),(2.62,0.2,0.2),(2.88,0.2,0.2),(2.92,1.25,1.05),(3.18,1.25,1.05),(3.22,0.15,0.15),(3.50,0.15,0.15),(3.55,1.8,1.2),(3.62,0.3,0.3),(3.74,0.3,0.3),(3.80,2.7,1.8),(3.85,0.5,0.5),(3.92,1.2,1.0),(4.05,2.0,1.6),(4.13,0.4,0.4),(4.25,0.7,0.3),(4.30,0.15,0.15),(4.50,0.3,0.3),(4.56,2.2,1.6),(4.62,0.3,0.3),(4.75,0.6,0.2),(4.82,0.2,0.2),(5.18,0.2,0.2),(5.25,0.7,0.4),(5.40,0.5,0.4),(5.46,0.2,0.2),(5.65,0.3,0.3),(5.72,2.75,2.5),(5.79,0.3,0.3),(6.02,1.55,1.3),(6.08,0.3,0.3),(6.20,1.0,1.0),(6.28,3.2,3.0),(6.36,1.6,1.8),(6.45,1.9,1.5),(6.55,1.6,2.25),(6.62,0.4,0.4),(6.72,1.3,0.9),(6.80,0.3,0.3),(6.98,1.8,1.7),(7.10,0.5,0.5),(7.20,1.1,1.3),(7.42,1.7,1.6),(7.55,1.3,1.0),(7.72,1.5,1.2),(7.90,1.1,1.0),(7.96,0.1,0.1),(8.28,0.1,0.1),(8.32,1.3,1.0),(8.38,0.3,0.3),(8.46,2.25,1.8),(8.55,1.7,1.2),(8.66,0.9,0.6),(8.72,0.15,0.15),(8.90,0.2,0.2),(8.94,2.95,1.1),(9.05,2.1,1.1),(9.20,0.9,0.8),(9.28,0.2,0.2),(9.58,0.2,0.2),(9.62,0.85,0.5),(9.70,0.3,0.3),(9.76,0.85,0.5),(9.82,0.15,0.15),(9.98,0.3,0.3),(10.05,2.0,1.6),(10.25,1.5,1.4),(10.35,0.5,0.4),(10.50,0.2,0.2),(10.58,1.35,1.3),(10.75,1.0,1.0),(10.90,0.7,0.6),(11.05,0.3,0.3),(11.20,1.9,1.3),(11.30,1.2,0.8),(11.40,0.2,0.2),(11.85,0.2,0.2),(11.90,1.55,0.9),(11.97,0.2,0.2),(12.17,0.3,0.3),(12.27,3.25,2.0),(12.35,0.5,0.5),(12.45,0.85,0.4),(12.57,1.4,0.6),(12.74,0.7,0.4),(12.80,0.2,0.2),(12.88,1.75,1.3),(13.02,0.6,0.5),(13.10,0.2,0.2),(13.25,0.6,0.5),(13.32,1.0,1.0),(13.48,0.6,0.5),(13.55,0.15,0.15),(13.80,0.2,0.2),(13.90,3.25,2.4),(13.98,1.0,1.0),(14.15,2.1,1.2),(14.30,0.3,0.3),(14.75,0.15,0.15),(14.82,1.05,0.8),(14.90,0.3,0.3),(15.02,0.4,0.4),(15.08,2.1,1.1),(15.15,0.4,0.4),(15.20,0.3,0.3),(15.28,0.9,0.4),(15.45,0.3,0.2),(15.55,0.8,0.5),(15.62,0.3,0.3),(15.85,0.9,0.4),(16.05,0.5,0.3),(16.12,0.1,0.1),(16.27,0.2,0.2),(16.38,1.55,1.0),(16.55,0.8,0.6),(16.65,0.2,0.2),(16.82,3.1,2.0),(16.90,0.4,0.4),(17.00,1.2,0.8),(17.22,0.6,0.4),(17.30,0.2,0.2),(17.46,1.85,1.3),(17.60,0.4,0.4),(17.80,0.9,0.8),(17.96,0.3,0.3),(18.05,0.1,0.1),(18.25,0.2,0.2),(18.35,1.4,0.8),(18.55,0.5,0.4),(18.65,0.6,0.6),(18.75,2.55,1.2),(18.97,3.25,2.4),(19.15,2.3,1.7),(19.30,0.6,0.4),(19.40,1.0,0.8),(19.55,2.1,1.8),(19.75,1.2,0.8),(19.85,0.3,0.3),(19.92,0.9,0.4),(20.00,0.2,0.2),(20.10,1.7,1.3),(20.30,0.5,0.4),(20.40,0.2,0.2),(20.70,0.3,0.3),(20.82,3.1,1.7),(20.93,1.2,1.2),(21.00,0.2,0.2),(21.30,0.2,0.2),(21.38,0.55,0.3),(21.47,0.2,0.2),(21.58,0.3,0.3),(21.75,0.77,0.5),(21.95,0.5,0.3),(22.05,0.2,0.2),(22.22,0.4,0.4),(22.40,1.35,1.6),(22.48,0.3,0.3),(22.60,0.5,0.3),(22.72,0.3,0.3),(22.98,0.4,0.4),(23.05,1.9,1.3),(23.12,0.3,0.3),(23.22,3.1,2.55),(23.32,0.5,0.5),(23.52,2.7,2.25),(23.62,0.5,0.5),(23.78,1.85,1.3),(23.88,0.3,0.3),(24.20,0.3,0.3),(24.28,1.7,1.0),(24.36,0.3,0.3),(24.48,1.0,0.6)]

# ---------------- style ----------------
C_GREEN, C_RED, C_ORANGE, C_BLUE = "#57AB27", "#CC071E", "#F6A800", "#00549F"
BG = "#F2C0C8"

sns.set_theme(style="white")
plt.rcParams["font.family"] = ["cmss10", "DejaVu Sans"]
plt.rcParams["mathtext.fontset"] = "cm"
plt.rcParams["axes.unicode_minus"] = False
plt.rcParams["axes.formatter.use_mathtext"] = True

fig = plt.figure(figsize=(13.125, 6.775), dpi=200, facecolor=BG)
ax = fig.add_axes([0.0804, 0.1055, 0.8933, 0.724])
ax.set_facecolor("white")

# waveform
w_t = np.array([w[0] for w in WAVE])
w_up = np.array([w[1] for w in WAVE])
w_dn = np.array([w[2] for w in WAVE])
ax.fill_between(w_t, WAVE_CENTER + w_up, WAVE_CENTER - w_dn, color="#808080", lw=0, zorder=1.5)
ax.plot([w_t[0], w_t[-1]], [WAVE_CENTER, WAVE_CENTER], color="#808080", lw=1.2, zorder=1.5)

def frame(pts):
    return pd.DataFrame(pts, columns=["t", "v"])

series = [(GREEN, C_GREEN, LABELS[0], "--"),
          (ORANGE, C_ORANGE, LABELS[2], "-"),
          (RED, C_RED, LABELS[1], "-"),
          (BLUE, C_BLUE, LABELS[3], "-")]
for pts, col, lab, ls in series:
    sns.lineplot(data=frame(pts), x="t", y="v", estimator=None, sort=False,
                 color=col, lw=1.6, linestyle=ls, label=lab, ax=ax, zorder=3)

ax.axvline(SCENARIO_CHANGE_T, color="black", lw=3.2, dashes=(3.6, 3.9), zorder=4)
ax.text(SCENARIO_CHANGE_T + 0.14, 27.5, "scenario change", fontsize=19, va="center", ha="left", zorder=5)
ax.text(24.58, WAVE_CENTER, r"$x(t)$", fontsize=20, va="center", ha="left", clip_on=False)

ax.set_xlim(0, 24.48)
ax.set_ylim(0, 36.1)
ax.set_xticks(X_TICKS, labels=[f"${v}$" for v in X_TICKS])
ax.set_yticks(Y_TICKS, labels=[f"${v}$" for v in Y_TICKS])
ax.tick_params(axis="both", which="both", direction="in", length=5, width=1, color="#808080",
               labelsize=21, top=True, right=True, bottom=True, left=True)
ax.tick_params(axis="x", pad=7)
ax.tick_params(axis="y", pad=8)
ax.grid(True, color="#c0c0c0", lw=1.0)
ax.set_axisbelow(True)
for s in ax.spines.values():
    s.set_color("black")
    s.set_linewidth(1.6)

ax.set_xlabel("Time [s]", fontsize=21, labelpad=1)
ax.set_ylabel("ERLE [dB]", fontsize=22, labelpad=6)

handles, labels = ax.get_legend_handles_labels()
order = [labels.index(l) for l in LABELS]
leg = ax.legend([handles[i] for i in order], [labels[i] for i in order],
                loc="lower right", bbox_to_anchor=(1.0, 1.0), ncol=2, frameon=True,
                fancybox=False, edgecolor="black", framealpha=1, borderaxespad=0,
                fontsize=22.8, handlelength=0.95, columnspacing=0.45, handletextpad=0.75,
                borderpad=0.42, labelspacing=0.4)
leg.get_frame().set_linewidth(1.6)

fig.savefig("out.png", dpi=200, facecolor=BG)
